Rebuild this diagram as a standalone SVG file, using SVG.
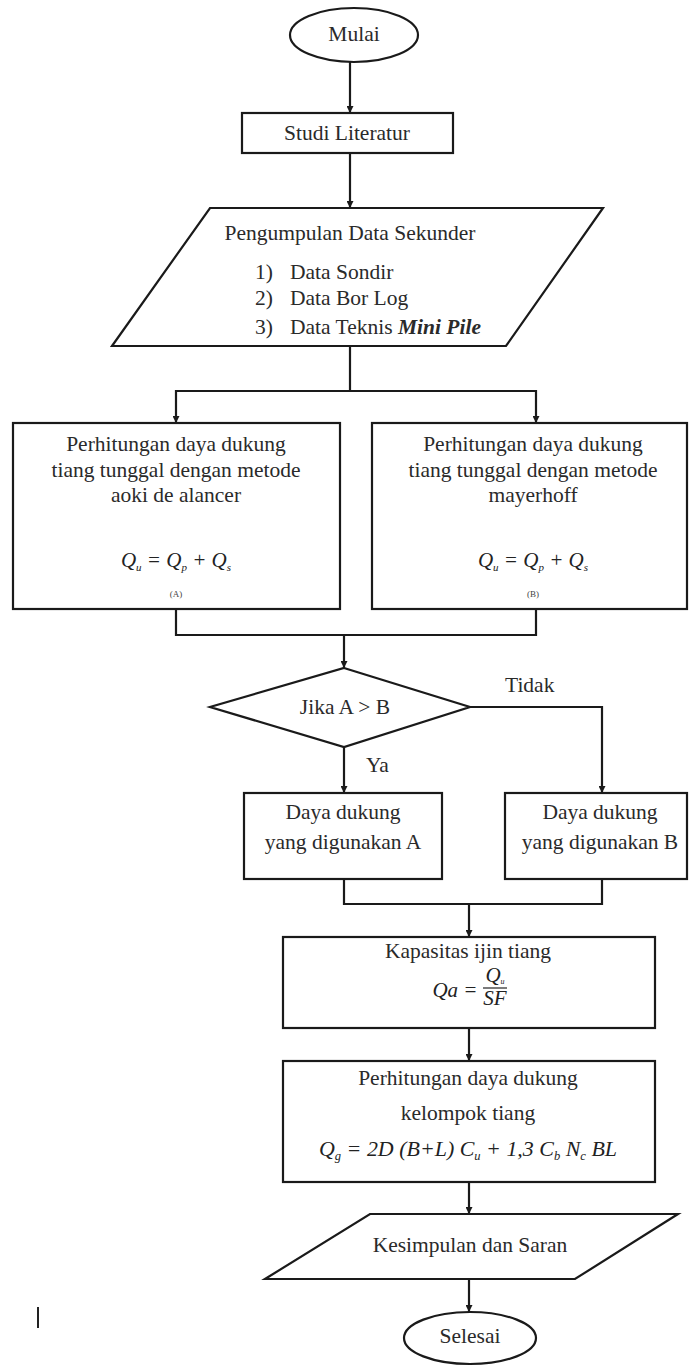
<svg xmlns="http://www.w3.org/2000/svg" width="689" height="1368" viewBox="0 0 689 1368" font-family="'Liberation Serif', 'DejaVu Serif', serif">
<defs>
<marker id="arr" viewBox="0 0 10 10" refX="10" refY="5" markerWidth="7" markerHeight="7" markerUnits="userSpaceOnUse" orient="auto">
<path d="M0 0 L10 5 L0 10 Z" fill="#1a1a1a"/>
</marker>
<style>
.shape{fill:#fff;stroke:#1a1a1a;stroke-width:2.2}
.conn{fill:none;stroke:#1a1a1a;stroke-width:2.2}
text{font-family:'Liberation Serif','DejaVu Serif',serif}
.t{font-size:21.5px;fill:#2a2a2a;text-anchor:middle}
.tl{font-size:21.5px;fill:#2a2a2a}
.m{font-style:italic;font-size:21px;fill:#222;text-anchor:middle}
.s{font-size:9px;fill:#444;text-anchor:middle}
</style>
</defs>
<rect width="689" height="1368" fill="#fff"/>
<g id="connectors">
<path class="conn" d="M350 62 V113" marker-end="url(#arr)"/>
<path class="conn" d="M350 153 V208" marker-end="url(#arr)"/>
<path class="conn" d="M350 346 V391 H176 V423" marker-end="url(#arr)"/>
<path class="conn" d="M350 391 H536 V423" marker-end="url(#arr)"/>
<path class="conn" d="M176 609 V635 H536 V609"/>
<path class="conn" d="M344 635 V668" marker-end="url(#arr)"/>
<path class="conn" d="M470 707 H602 V793" marker-end="url(#arr)"/>
<path class="conn" d="M344 747 V793" marker-end="url(#arr)"/>
<path class="conn" d="M344 879 V904 H602 V879"/>
<path class="conn" d="M469 904 V937" marker-end="url(#arr)"/>
<path class="conn" d="M469 1028 V1061" marker-end="url(#arr)"/>
<path class="conn" d="M469 1182 V1214" marker-end="url(#arr)"/>
<path class="conn" d="M469 1279 V1312" marker-end="url(#arr)"/>
<text class="tl" x="505" y="692">Tidak</text>
<text class="tl" x="366" y="772">Ya</text>
</g>
<g id="mulai">
<ellipse class="shape" cx="354" cy="35" rx="64" ry="27"/>
<text class="t" x="354" y="41">Mulai</text>
</g>
<g id="studi-literatur">
<rect class="shape" x="242" y="113" width="211" height="40"/>
<text class="t" x="347" y="140">Studi Literatur</text>
</g>
<g id="pengumpulan-data">
<polygon class="shape" points="210,208 603,208 506,346 112,346"/>
<text class="t" x="350" y="240">Pengumpulan Data Sekunder</text>
<text class="tl" x="255" y="279">1)</text><text class="tl" x="290" y="279">Data Sondir</text>
<text class="tl" x="255" y="305">2)</text><text class="tl" x="290" y="305">Data Bor Log</text>
<text class="tl" x="255" y="334">3)</text><text class="tl" x="290" y="334">Data Teknis <tspan font-style="italic" font-weight="bold">Mini Pile</tspan></text>
</g>
<g id="metode-aoki">
<rect class="shape" x="13" y="423" width="327" height="186"/>
<text class="t" x="176" y="451">Perhitungan daya dukung</text>
<text class="t" x="176" y="477">tiang tunggal dengan metode</text>
<text class="t" x="176" y="502">aoki de alancer</text>
<text class="m" x="176" y="567">Q<tspan font-size="11" dy="4">u</tspan><tspan dy="-4"> = Q</tspan><tspan font-size="11" dy="4">p</tspan><tspan dy="-4"> + Q</tspan><tspan font-size="11" dy="4">s</tspan></text>
<text class="s" x="176" y="597">(A)</text>
</g>
<g id="metode-mayerhoff">
<rect class="shape" x="372" y="423" width="315" height="186"/>
<text class="t" x="533" y="451">Perhitungan daya dukung</text>
<text class="t" x="533" y="477">tiang tunggal dengan metode</text>
<text class="t" x="533" y="502">mayerhoff</text>
<text class="m" x="533" y="567">Q<tspan font-size="11" dy="4">u</tspan><tspan dy="-4"> = Q</tspan><tspan font-size="11" dy="4">p</tspan><tspan dy="-4"> + Q</tspan><tspan font-size="11" dy="4">s</tspan></text>
<text class="s" x="533" y="597">(B)</text>
</g>
<g id="keputusan">
<polygon class="shape" points="344,668 470,707 344,747 210,707"/>
<text class="t" x="345" y="714">Jika A &gt; B</text>
</g>
<g id="daya-dukung-a">
<rect class="shape" x="244" y="793" width="198" height="86"/>
<text class="t" x="343" y="819">Daya dukung</text>
<text class="t" x="343" y="849">yang digunakan A</text>
</g>
<g id="daya-dukung-b">
<rect class="shape" x="505" y="793" width="182" height="86"/>
<text class="t" x="600" y="819">Daya dukung</text>
<text class="t" x="600" y="849">yang digunakan B</text>
</g>
<g id="kapasitas-ijin">
<rect class="shape" x="283" y="937" width="372" height="91"/>
<text class="t" x="468" y="958">Kapasitas ijin tiang</text>
<text class="m" x="455" y="997">Qa =</text>
<text class="m" x="495" y="982" font-size="12">Q<tspan font-size="8" dy="2">u</tspan></text>
<line x1="483" y1="988" x2="507" y2="988" stroke="#222" stroke-width="1.2"/>
<text class="m" x="495" y="1005" font-size="12">SF</text>
</g>
<g id="daya-dukung-kelompok">
<rect class="shape" x="283" y="1061" width="372" height="121"/>
<text class="t" x="468" y="1085">Perhitungan daya dukung</text>
<text class="t" x="468" y="1120">kelompok tiang</text>
<text class="m" x="468" y="1156" textLength="298" lengthAdjust="spacingAndGlyphs">Q<tspan font-size="12" dy="4">g</tspan><tspan dy="-4"> = 2D (B+L) C</tspan><tspan font-size="12" dy="4">u</tspan><tspan dy="-4"> + 1,3 C</tspan><tspan font-size="12" dy="4">b</tspan><tspan dy="-4"> N</tspan><tspan font-size="12" dy="4">c</tspan><tspan dy="-4"> BL</tspan></text>
</g>
<g id="kesimpulan">
<polygon class="shape" points="370,1214 678,1214 575,1279 265,1279"/>
<text class="t" x="470" y="1252">Kesimpulan dan Saran</text>
</g>
<g id="selesai">
<ellipse class="shape" cx="470" cy="1338" rx="66" ry="26"/>
<text class="t" x="470" y="1343">Selesai</text>
</g>
<line x1="38" y1="1307" x2="38" y2="1328" stroke="#222" stroke-width="2"/>
</svg>
